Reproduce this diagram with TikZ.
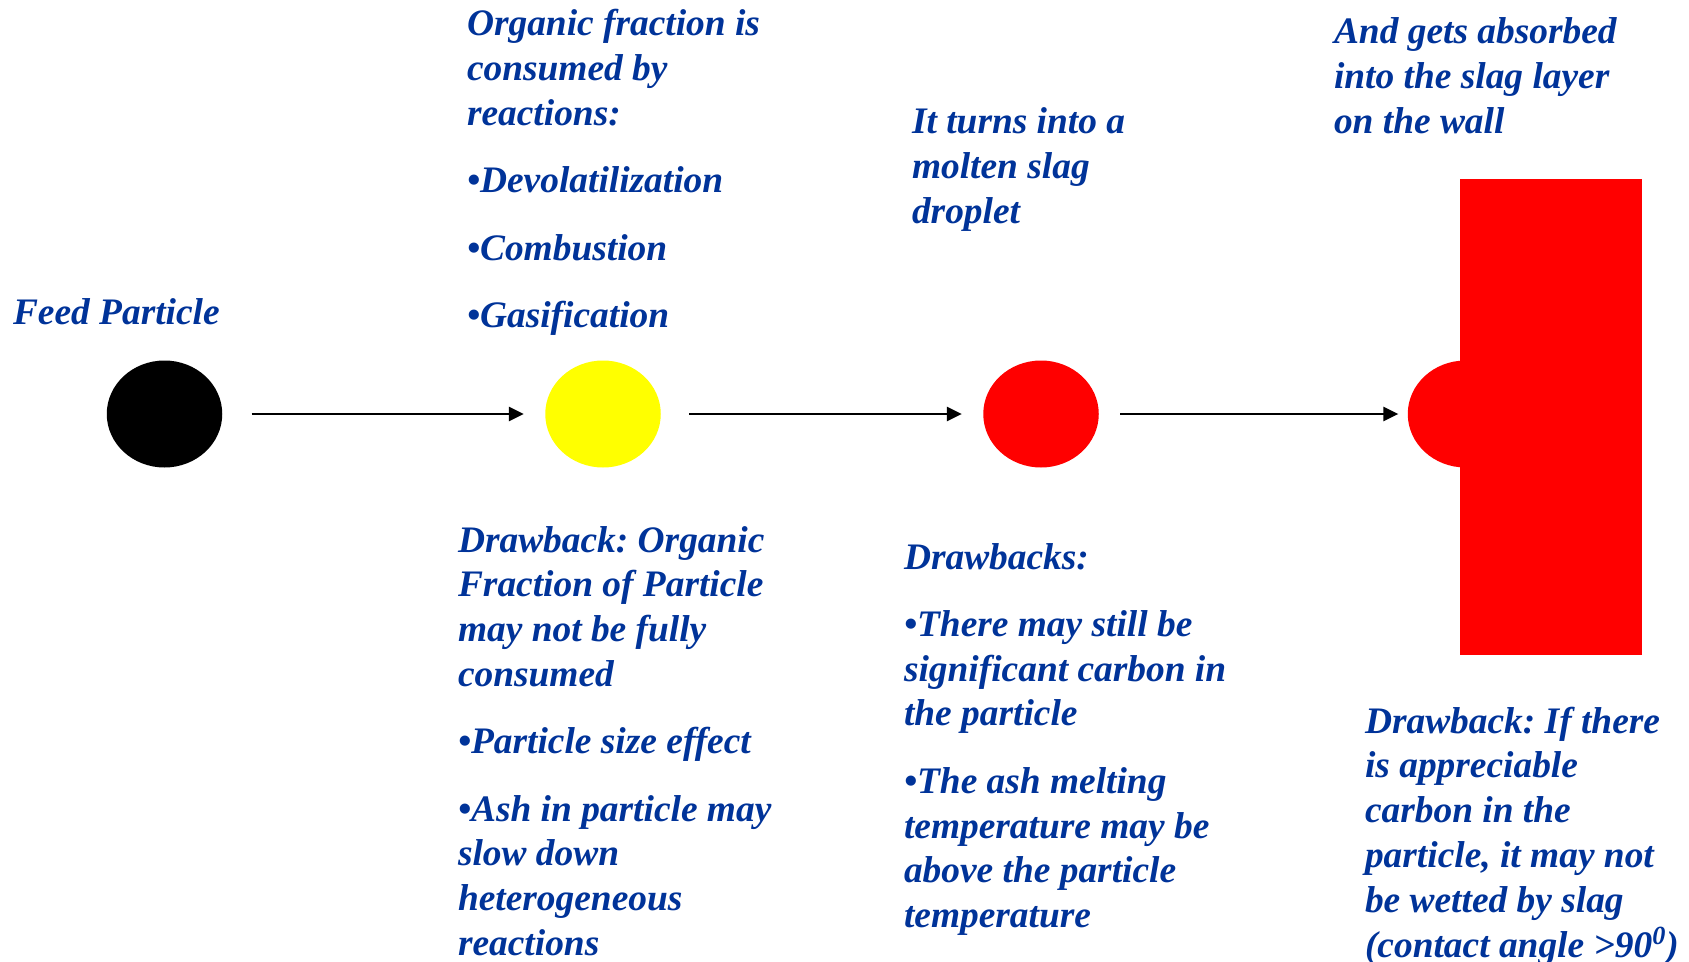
\documentclass[tikz,border=0pt]{standalone}
\usepackage{fontspec}
\setmainfont{Liberation Serif}
\usetikzlibrary{arrows.meta,shapes.geometric}
\definecolor{txtblue}{RGB}{0,51,153}
\definecolor{slagred}{RGB}{255,0,0}
\definecolor{ashyellow}{RGB}{255,255,0}
\frenchspacing
\newcommand{\blk}[1]{\parbox[t]{220pt}{\raggedright\frenchspacing\fontsize{18.7pt}{22.4pt}\selectfont\bfseries\itshape #1}}
\newcommand{\pgap}{\\[11.25pt]}
\begin{document}
\begin{tikzpicture}[x=0.5pt,y=-0.5pt,
  lbl/.style={anchor=base west,inner sep=0pt,outer sep=0pt,text=txtblue},
  particle/.style={ellipse,draw=none,minimum width=57.75pt,minimum height=53.5pt,inner sep=0pt},
  arr/.style={line width=1.15pt,-{Triangle[length=7.5pt,width=7pt]}}]
\useasboundingbox (0,0) rectangle (1689,962);
\fill[white] (0,0) rectangle (1689,962);

% particles
\node[particle,fill=black] (feed) at (164.5,414) {};
\node[particle,fill=ashyellow] (yellow) at (603,414) {};
\node[particle,fill=slagred] (red) at (1041,414) {};
\node[particle,fill=slagred] (drop) at (1465.5,414) {};
\node[fill=slagred,draw=none,inner sep=0pt,minimum width=91pt,minimum height=238pt,anchor=north west] (wall) at (1460,179) {};

% arrows
\draw[arr,shorten <=14.5pt,shorten >=10.5pt] (feed.east) -- (yellow.west);
\draw[arr,shorten <=14pt,shorten >=10.5pt] (yellow.east) -- (red.west);
\draw[arr,shorten <=10.5pt,shorten >=4.5pt] (red.east) -- (drop.west);

% texts
\node[lbl] (tfeed) at (13,324) {\blk{Feed Particle}};
\node[lbl] (torg) at (467,36) {\blk{Organic fraction is\\consumed by\\reactions:\pgap
\textbullet Devolatilization\pgap \textbullet Combustion\pgap \textbullet Gasification}};
\node[lbl] (tmolten) at (912,134) {\blk{It turns into a\\molten slag\\droplet}};
\node[lbl] (tabs) at (1334,44) {\blk{And gets absorbed\\into the slag layer\\on the wall}};
\node[lbl] (tdraw1) at (458,552) {\blk{Drawback: Organic\\Fraction of Particle\\may not be fully\\consumed\pgap
\textbullet Particle size effect\pgap
\textbullet Ash in particle may\\slow down\\heterogeneous\\reactions}};
\node[lbl] (tdraw2) at (904,569) {\blk{Drawbacks:\pgap
\textbullet There may still be\\significant carbon in\\the particle\pgap
\textbullet The ash melting\\temperature may be\\above the particle\\temperature}};
\node[lbl] (tdraw3) at (1365,733) {\blk{Drawback: If there\\is appreciable\\carbon in the\\particle, it may not\\be wetted by slag\\(contact angle >90\textsuperscript{0})}};
\end{tikzpicture}
\end{document}
